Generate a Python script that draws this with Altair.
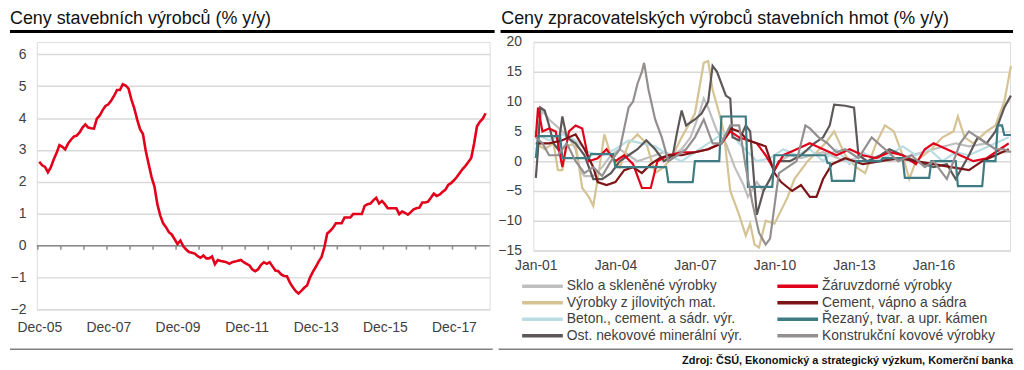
import altair as alt
import pandas as pd

FONT = "Liberation Sans"
TXT = "#404040"

# ---------------- Left panel: monthly values from Dec-05 ----------------
left_title = "Ceny stavebních výrobců (% y/y)"
left_values = [
    2.63, 2.52, 2.47, 2.30, 2.45, 2.70, 2.90, 3.15, 3.10, 3.02, 3.20, 3.32,
    3.42, 3.45, 3.55, 3.70, 3.80, 3.70, 3.68, 3.67, 3.98, 4.08, 4.25, 4.38,
    4.43, 4.55, 4.70, 4.88, 4.88, 5.06, 5.02, 4.92, 4.58, 4.30, 3.95, 3.65,
    3.50, 2.96, 2.55, 2.15, 1.85, 1.30, 0.95, 0.70, 0.58, 0.42, 0.35, 0.20,
    0.05, 0.16, -0.02, -0.12, -0.20, -0.22, -0.25, -0.33, -0.38, -0.31, -0.40, -0.40,
    -0.34, -0.58, -0.45, -0.48, -0.50, -0.52, -0.57, -0.52, -0.50, -0.47, -0.45, -0.52,
    -0.57, -0.62, -0.75, -0.80, -0.74, -0.60, -0.52, -0.57, -0.52, -0.65, -0.78, -0.80,
    -0.90, -0.95, -0.96, -1.15, -1.30, -1.42, -1.50, -1.42, -1.32, -1.25, -1.00, -0.82,
    -0.67, -0.50, -0.36, -0.05, 0.38, 0.46, 0.56, 0.70, 0.70, 0.70, 0.88, 0.88,
    0.88, 0.99, 0.99, 0.99, 0.99, 1.25, 1.30, 1.32, 1.42, 1.50, 1.32, 1.40,
    1.30, 1.17, 1.17, 1.17, 1.17, 0.99, 1.07, 1.03, 0.97, 1.05, 1.14, 1.17,
    1.19, 1.35, 1.35, 1.38, 1.50, 1.63, 1.56, 1.60, 1.68, 1.75, 1.90, 1.96,
    2.05, 2.15, 2.28, 2.40, 2.50, 2.62, 2.75, 3.20, 3.74, 3.88, 3.98, 4.15,
]
left_ticks_y = [-2, -1, 0, 1, 2, 3, 4, 5, 6]
left_label_months = [0, 24, 48, 72, 96, 120, 144]   # Dec-05 ... Dec-17

# ---------------- Right panel: months since Jan-01 ----------------
right_title = "Ceny zpracovatelských výrobců stavebních hmot (% y/y)"
# legend order (filled column by column: left column first, then right column)
series_names = [
    "Sklo a skleněné výrobky", "Výrobky z jílovitých mat.",
    "Beton., cement. a sádr. výr.", "Ost. nekovové minerální výr.",
    "Žáruvzdorné výrobky", "Cement, vápno a sádra",
    "Řezaný, tvar. a upr. kámen", "Konstrukční kovové výrobky",
]
series_colors = ["#bfbfbf", "#d6c394", "#b9dde3", "#5d5757",
                 "#e2001a", "#7d1517", "#3e7b82", "#948f8f"]

sklo_m = [0, 3, 6, 9, 12, 15, 18, 20, 22, 26, 30, 34, 38, 42, 46, 50, 54, 58, 62, 66, 70, 74, 76, 78, 82, 86, 90, 94, 96, 100, 103, 106, 110, 115, 120, 130, 140, 150, 160, 170, 180, 190, 196, 204, 210, 214]
sklo_v = [4, 8.5, 7, 6, 5, 4, 2, -1.5, -2.5, -2.5, -1, 1, 2, 1, 0, 0.5, 1, 1.5, 1, 2, 4, 8, 10.5, 9, 5, 3, -1, -4, -6, -3.5, -5, -3, 0, 1, 0.5, 1.5, 0, 1, 0, 1, 2, 3, 2.5, 3, 1.5, 1.5]

zaru_m = [0, 1, 3, 6, 9, 12, 15, 18, 21, 24, 28, 32, 36, 40, 44, 48, 52, 55, 60, 66, 72, 78, 84, 88, 92, 96, 100, 104, 108, 112, 118, 124, 130, 136, 142, 148, 154, 160, 166, 172, 176, 180, 186, 192, 198, 204, 210, 214]
zaru_v = [4, 9, 5, 5.5, 5, -1, 5, 6, 5.5, 0, 0.5, 2, 0, 1, -0.5, -4.5, -4.5, 0, 1, 1.5, 1.5, 2, 3, 5, 4, 3.5, 3, 1, -1.5, 1, 2, 3, 2, 1, 2, 1, 0.5, 1.5, 1, -0.5, 2, 3, 2, 1, 0, 0.5, 2, 3]

jil_m = [0, 4, 8, 10, 12, 14, 18, 21, 24, 26, 28, 31, 34, 38, 42, 46, 50, 54, 58, 62, 66, 69, 72, 76, 78, 80, 83, 85, 88, 92, 95, 97, 99, 101, 104, 108, 114, 117, 123, 131, 135, 140, 145, 149, 154, 158, 162, 166, 169, 172, 179, 184, 189, 191, 194, 198, 204, 208, 212, 215]
jil_v = [3, 2, 3, -1.5, -1.5, 2.5, 3, -4.5, -6, -7.5, -3, 4.5, 1, -1, 3, 4.5, 3, -2, -1, 1, 4, 6, 8, 16.5, 16.8, 12, 8, 5, -5, -9, -12.5, -10.5, -14, -14.5, -10, -10.5, -6, -3, 0, 3, 5, 1, -1, -2, 3, 6, 5, 1, -3, 0, 2, 4, 5, 7.5, 4, 3, 5, 6, 10, 16]

cem_m = [0, 6, 12, 18, 22, 26, 28, 32, 36, 40, 44, 48, 52, 56, 60, 66, 72, 78, 84, 88, 92, 96, 100, 104, 108, 111, 116, 120, 124, 127, 130, 134, 140, 148, 156, 164, 172, 180, 188, 196, 202, 208, 214]
cem_v = [3, 3, 3.5, 4.5, 2, -1, -3.5, -4, -3.5, -1.5, -1, -2, -0.5, 0.5, 1, 1, 1.5, 2, 3, 5.5, 5, 3.5, 3, 2.5, -2, -3.5, -5, -4, -6, -6, -3, -0.5, 0.5, -0.5, 0, 0.5, 0, -0.5, -1, -1.5, 0, 1, 2]

bet_m = [0, 6, 12, 18, 24, 30, 36, 42, 48, 54, 60, 66, 72, 78, 84, 88, 92, 96, 100, 106, 112, 118, 124, 130, 136, 142, 148, 154, 160, 166, 172, 178, 184, 190, 196, 202, 208, 214]
bet_v = [4.5, 3.5, 4.5, 3.5, 1.5, 1, 2, 3.5, 3, 2.5, 1, 0, 1.5, 3, 4.5, 5, 3, 1.5, 0, 0.5, 2, 1, 2, 0, 2, -0.5, 1.5, 0, 1, 2.5, 1, 2, 0, 1.5, 1, 2, 3, 4]

kam_m = [0, 1, 11, 12, 24, 25, 35, 36, 59, 60, 71, 72, 83, 84, 95, 96, 107, 108, 131, 132, 133, 134, 144, 145, 156, 157, 166, 167, 178, 179, 190, 191, 202, 203, 208, 209, 211, 212, 215]
kam_v = [0.5, 4.2, 4.2, 0.5, 0.5, 1.2, 1.2, -1, -1, -3.5, -3.5, 0, 0, 7.5, 7.5, -4.3, -4.3, 1, 1, -0.3, -0.3, -3.3, -3.3, 0, 0, 0.5, 0.5, -2.8, -2.8, 0, 0, -4.2, -4.2, 0, 0, 6, 6, 4.4, 4.4]

ost_m = [0, 1, 2, 4, 6, 8, 10, 12, 14, 18, 22, 26, 30, 34, 38, 42, 46, 50, 54, 58, 62, 64, 66, 68, 72, 75, 78, 80, 82, 86, 88, 89, 92, 95, 97, 100, 103, 106, 110, 115, 120, 126, 130, 133, 135, 140, 144, 146, 150, 156, 160, 166, 172, 180, 186, 190, 196, 200, 204, 208, 212, 215]
ost_v = [-2.8, 2, 9, 8.5, 6, 3, 2, 7.5, 4, 3, 1, -3, -3, -2, 0, 1, 2, 3.5, 2, 0, 1, 5, 8.5, 6, 7, 8, 10, 16, 15, 11, 10.5, 4, 3.5, 6, 5, -9, -5, -3, 0, 0, 1, 3, 4, 6, 9.5, 9.3, 9, 1, 0, 1, 2, 1, 0, -1, -0.5, -3, 1, 4, 3, 5, 9, 11]

kov_m = [0, 3, 6, 10, 14, 18, 22, 26, 30, 34, 38, 42, 44, 46, 48, 49, 51, 54, 57, 60, 64, 68, 72, 76, 80, 84, 88, 92, 95, 98, 101, 104, 106, 110, 114, 118, 122, 124, 128, 132, 136, 140, 146, 152, 158, 164, 170, 176, 180, 186, 192, 196, 200, 204, 208, 212, 215]
kov_v = [4, 3, 1, 1, 3, 0, -2, -1, -2.5, 0, 2, 9, 10, 13, 15, 16.5, 12, 7, 4, 0, 1, 2, 4, 7, 3, 3, 6, 6, -1, -7, -12, -14, -13, -2, -1, 0, 6, 5.5, 4, 3, 1.5, 2, 0.5, 4, 2, 0, 1, -1, 0, -3, 3, 5, 4, 3, 2, 2, 1.5]

right_ticks_y = [-15, -10, -5, 0, 5, 10, 15, 20]
right_label_months = [0, 36, 72, 108, 144, 180]       # Jan-01 ... Jan-16
source_text = "Zdroj: ČSÚ, Ekonomický a strategický výzkum, Komerční banka"

# ---------------- data frames ----------------
left_df = pd.DataFrame({"m": list(range(len(left_values))), "v": left_values})
zero_df = pd.DataFrame({"m": [0], "v": [0]})
tick_df = pd.DataFrame({"m": [-0.5 + 8 * k for k in range(20)]})
tick_df["v"] = 0.0
tick_df["b"] = -0.125

all_m = [sklo_m, jil_m, bet_m, ost_m, zaru_m, cem_m, kam_m, kov_m]
all_v = [sklo_v, jil_v, bet_v, ost_v, zaru_v, cem_v, kam_v, kov_v]
rows = []
for name, ms, vs in zip(series_names, all_m, all_v):
    for i, (m, v) in enumerate(zip(ms, vs)):
        rows.append({"s": name, "m": m, "v": v, "i": i})
right_df = pd.DataFrame(rows)

one = pd.DataFrame({"t": [""]})

# ---------------- left chart ----------------
LW, LH = 456, 269.3
axis_common = dict(labelFont=FONT, labelFontSize=14, labelColor=TXT, title=None,
                   domain=False, ticks=False, labelOverlap=False, labelFlush=False)
lxs = alt.Scale(domain=[-0.86, 156.4], nice=False, zero=False)
lys = alt.Scale(domain=[-2, 6.383], nice=False, zero=False)
lx = alt.X("m:Q", scale=lxs,
           axis=alt.Axis(values=left_label_months, grid=False, labelPadding=11,
                         labelExpr="'Dec-' + ((datum.value/12+5) < 10 ? '0' : '') + (datum.value/12+5)",
                         **axis_common))
ly = alt.Y("v:Q", scale=lys,
           axis=alt.Axis(values=left_ticks_y, grid=True, gridColor="#d9d9d9", gridWidth=1.5,
                         labelPadding=11, **axis_common))

left_line = alt.Chart(left_df).mark_line(color="#e2001a", strokeWidth=2.6).encode(x=lx, y=ly)
zero_rule = alt.Chart(zero_df).mark_rule(color="#8c8c8c", strokeWidth=1.5).encode(y=ly)
zero_ticks = alt.Chart(tick_df).mark_rule(color="#8c8c8c", strokeWidth=1.5).encode(
    x=lx, y=ly, y2="b:Q")
anchor = alt.Chart(one).mark_rule(strokeOpacity=0).encode(
    x=alt.value(-27), x2=alt.value(-20), y=alt.value(-32))
l_title = alt.Chart(pd.DataFrame({"t": [left_title]})).mark_text(
    align="left", baseline="alphabetic", font=FONT, fontSize=18, color="#111111").encode(
    text="t:N", x=alt.value(-27), y=alt.value(-17.8))
l_bar = alt.Chart(one).mark_rule(color="#000000", strokeWidth=3).encode(
    x=alt.value(-27), x2=alt.value(461), y=alt.value(-10.5))
l_bottom = alt.Chart(one).mark_rule(color="#808080", strokeWidth=1.5).encode(
    x=alt.value(-27), x2=alt.value(459), y=alt.value(309.3))

left = alt.layer(zero_rule, zero_ticks, left_line, anchor, l_title, l_bar, l_bottom).properties(
    width=LW, height=LH)

# ---------------- right chart ----------------
RW, RH = 480, 210
rx = alt.X("m:Q", scale=alt.Scale(domain=[-1.12, 214.6], nice=False, zero=False),
           axis=alt.Axis(values=right_label_months, grid=False, labelPadding=8,
                         labelExpr="'Jan-' + ((datum.value/12+1) < 10 ? '0' : '') + (datum.value/12+1)",
                         **axis_common))
ry = alt.Y("v:Q", scale=alt.Scale(domain=[-15, 20], nice=False, zero=False),
           axis=alt.Axis(values=right_ticks_y, grid=True, gridColor="#d9d9d9", gridWidth=1.5,
                         labelPadding=12, **axis_common))

right_lines = alt.Chart(right_df).mark_line(strokeWidth=2.2).encode(
    x=rx, y=ry, order="i:Q",
    color=alt.Color("s:N", scale=alt.Scale(domain=series_names, range=series_colors),
                    legend=alt.Legend(orient="none", legendX=486.7, legendY=239, columns=2,
                                      symbolType="stroke", symbolSize=1681, symbolStrokeWidth=3.5,
                                      clipHeight=14, rowPadding=2.6, columnPadding=33,
                                      labelFont=FONT, labelFontSize=14, labelColor=TXT,
                                      labelOffset=2, title=None, padding=0, labelLimit=400)))
r_title = alt.Chart(pd.DataFrame({"t": [right_title]})).mark_text(
    align="left", baseline="alphabetic", font=FONT, fontSize=18, color="#111111").encode(
    text="t:N", x=alt.value(-32.3), y=alt.value(-17.8))
r_bar = alt.Chart(one).mark_rule(color="#000000", strokeWidth=3).encode(
    x=alt.value(-33), x2=alt.value(483), y=alt.value(-10.5))
r_bottom = alt.Chart(one).mark_rule(color="#808080", strokeWidth=1.5).encode(
    x=alt.value(-35), x2=alt.value(483), y=alt.value(309.3))
r_source = alt.Chart(pd.DataFrame({"t": [source_text]})).mark_text(
    align="right", baseline="alphabetic", font=FONT, fontSize=11, fontWeight="bold",
    color="#111111").encode(text="t:N", x=alt.value(483), y=alt.value(324))

right = alt.layer(right_lines, r_title, r_bar, r_bottom, r_source).properties(width=RW, height=RH)

chart = alt.hconcat(left, right, spacing=44, bounds="flush").properties(padding=0).configure_view(
    stroke=None).configure(font=FONT)

chart.save("out.html", embed_options={"renderer": "svg", "actions": False})
